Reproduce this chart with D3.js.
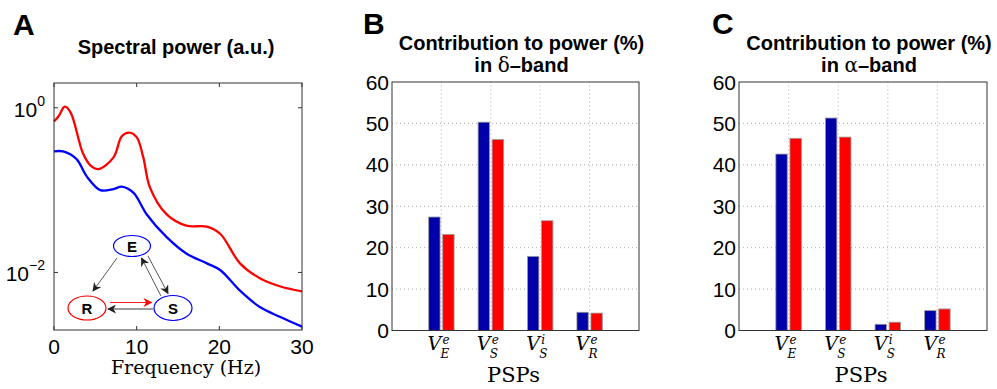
<!DOCTYPE html>
<html>
<head>
<meta charset="utf-8">
<script src="https://cdn.jsdelivr.net/npm/d3@7"></script>
<style>
	body { margin: 0; background: #fff; }
	svg { display: block; }
</style>
</head>
<body>
<div></div>
<script>
// panel A : spectra
const freqRed = [0, 0.6, 1.3, 2.0, 3.5, 4.4, 5.4, 7.2, 8.2, 9.1, 10.0, 10.8, 11.6, 13.6, 16, 18.5, 20.1, 22.5, 24.9, 27.3, 30];
const powerRed = [0.68, 0.80, 1.03, 0.88, 0.28, 0.20, 0.18, 0.25, 0.45, 0.50, 0.44, 0.25, 0.108, 0.051, 0.037, 0.036, 0.0295, 0.0129, 0.0085, 0.0068, 0.0059];
const freqBlue = [0, 1.1, 2.7, 4.0, 5.6, 7.2, 8.2, 9.6, 11.2, 13.6, 16, 18.5, 20.1, 22.5, 24.9, 27.3, 30];
const powerBlue = [0.295, 0.295, 0.24, 0.145, 0.100, 0.103, 0.110, 0.093, 0.051, 0.027, 0.017, 0.0129, 0.0107, 0.0060, 0.0038, 0.0029, 0.0022];
const freqTicks = [0, 10, 20, 30];
const powerTicks = [1, 0.01];
const powerTickExp = ["0", "\u22122"];

// panels B and C : contributions (%)
const pspSub = ["E", "S", "S", "R"];
const pspSup = ["e", "e", "i", "e"];
const deltaBlue = [27.4, 50.3, 17.9, 4.4];
const deltaRed = [23.2, 46.1, 26.5, 4.2];
const alphaBlue = [42.6, 51.3, 1.5, 4.8];
const alphaRed = [46.4, 46.7, 2.0, 5.2];
const percentTicks = [0, 10, 20, 30, 40, 50, 60];

const width = 997;
const height = 389;
const sans = "'Liberation Sans', Arial, Helvetica, sans-serif";
const serif = "'DejaVu Serif', 'Liberation Serif', serif";
const red = "#ff0000";
const blue = "#0000ff";
const barBlue = "#0000a8";

var svg = d3.select("div")
	.append("svg")
	.attr("width", width)
	.attr("height", height);

svg.append("rect").attr("width", width).attr("height", height).attr("fill", "#fff");

var defs = svg.append("defs");
[["arrBlack", "#222"], ["arrRed", red]].forEach(function (m) {
	defs.append("marker")
		.attr("id", m[0])
		.attr("viewBox", "0 0 10 10")
		.attr("refX", 9)
		.attr("refY", 5)
		.attr("markerWidth", 9)
		.attr("markerHeight", 9)
		.attr("markerUnits", "userSpaceOnUse")
		.attr("orient", "auto")
		.append("path")
		.attr("d", "M0,0 L10,5 L0,10 L3,5 z")
		.attr("fill", m[1]);
});

function panelLetter(x, y, t) {
	svg.append("text")
		.attr("x", x).attr("y", y)
		.style("font-family", sans)
		.style("font-weight", "bold")
		.style("font-size", "30px")
		.text(t);
}

// ---------------- panel A ----------------
var xA = d3.scaleLinear().domain([0, 30]).range([54, 302]);
var yA = d3.scaleLog().domain([0.002, 2]).range([330, 83]);

panelLetter(13, 35, "A");

svg.append("text")
	.attr("x", 176).attr("y", 54)
	.attr("text-anchor", "middle")
	.style("font-family", sans)
	.style("font-weight", "bold")
	.style("font-size", "20px")
	.text("Spectral power (a.u.)");

var gA = svg.append("g");

// ticks inside the box, on all four sides
freqTicks.forEach(function (t) {
	gA.append("line").attr("x1", xA(t)).attr("x2", xA(t)).attr("y1", 330).attr("y2", 326).attr("stroke", "#333");
	gA.append("line").attr("x1", xA(t)).attr("x2", xA(t)).attr("y1", 83).attr("y2", 87).attr("stroke", "#333");
	gA.append("text")
		.attr("x", xA(t)).attr("y", 354)
		.attr("text-anchor", "middle")
		.style("font-family", sans)
		.style("font-size", "21px")
		.text(t);
});

powerTicks.forEach(function (t, i) {
	gA.append("line").attr("x1", 54).attr("x2", 58).attr("y1", yA(t)).attr("y2", yA(t)).attr("stroke", "#333");
	gA.append("line").attr("x1", 302).attr("x2", 298).attr("y1", yA(t)).attr("y2", yA(t)).attr("stroke", "#333");
	var lab = gA.append("text")
		.attr("x", 45).attr("y", yA(t) + 9)
		.attr("text-anchor", "end")
		.style("font-family", sans)
		.style("font-size", "21px");
	lab.append("tspan").text("10");
	lab.append("tspan")
		.attr("dy", -11)
		.style("font-size", "14px")
		.text(powerTickExp[i]);
});

var line = d3.line()
	.x(function (d) { return xA(d[0]); })
	.y(function (d) { return yA(d[1]); })
	.curve(d3.curveCatmullRom.alpha(0.5));

gA.append("path")
	.attr("d", line(d3.zip(freqRed, powerRed)))
	.attr("fill", "none")
	.attr("stroke", red)
	.attr("stroke-width", 2.3);

gA.append("path")
	.attr("d", line(d3.zip(freqBlue, powerBlue)))
	.attr("fill", "none")
	.attr("stroke", blue)
	.attr("stroke-width", 2.3);

gA.append("rect")
	.attr("x", 54).attr("y", 83)
	.attr("width", 248).attr("height", 247)
	.attr("fill", "none")
	.attr("stroke", "#333")
	.attr("stroke-width", 1);

// network inset E, R, S
var net = svg.append("g").attr("transform", "translate(40,221)");
var nodes = [
	{ id: "E", x: 92, y: 25, rx: 18.5, ry: 10.5, c: blue },
	{ id: "R", x: 47, y: 87, rx: 19, ry: 12, c: red },
	{ id: "S", x: 133, y: 87, rx: 19, ry: 12.5, c: blue }
];
var links = [
	[77, 37, 53, 70, "arrBlack", "#444"],
	[108, 35, 128, 72.5, "arrBlack", "#444"],
	[121, 75, 101.5, 37, "arrBlack", "#444"],
	[70, 81.5, 111.5, 81.5, "arrRed", red],
	[113, 88, 68, 88, "arrBlack", "#222"]
];
links.forEach(function (l) {
	net.append("line")
		.attr("x1", l[0]).attr("y1", l[1])
		.attr("x2", l[2]).attr("y2", l[3])
		.attr("stroke", l[5])
		.attr("stroke-width", 0.9)
		.attr("marker-end", "url(#" + l[4] + ")");
});
nodes.forEach(function (n) {
	net.append("ellipse")
		.attr("cx", n.x).attr("cy", n.y)
		.attr("rx", n.rx).attr("ry", n.ry)
		.attr("fill", "none")
		.attr("stroke", n.c)
		.attr("stroke-width", 1.2);
	net.append("text")
		.attr("x", n.x).attr("y", n.y + 5.5)
		.attr("text-anchor", "middle")
		.style("font-family", sans)
		.style("font-weight", "bold")
		.style("font-size", "15px")
		.text(n.id);
});

svg.append("text")
	.attr("x", 186).attr("y", 374)
	.attr("text-anchor", "middle")
	.style("font-family", serif)
	.style("font-size", "19px")
	.text("Frequency (Hz)");

// ---------------- panels B and C ----------------
function barPanel(left, right, blueVals, redVals, letter, letterX, greek) {
	var x = d3.scaleLinear().domain([0, 5]).range([left, right]);
	var y = d3.scaleLinear().domain([0, 60]).range([330.5, 82]);
	var g = svg.append("g");
	var mid = (left + right) / 2;
	var bw = x(0.23) - x(0);
	var off = 0.142;

	panelLetter(letterX, 34, letter);

	var title = g.append("text")
		.attr("text-anchor", "middle")
		.style("font-family", sans)
		.style("font-weight", "bold")
		.style("font-size", "20px");
	title.append("tspan").attr("x", mid + 6).attr("y", 50).text("Contribution to power (%)");
	var t2 = title.append("tspan").attr("x", mid + 6).attr("y", 72);
	t2.append("tspan").text("in ");
	t2.append("tspan").style("font-family", serif).style("font-weight", "normal").text(greek);
	t2.append("tspan").text("\u2013band");

	// dotted grid
	percentTicks.slice(1, -1).forEach(function (t) {
		g.append("line")
			.attr("x1", left).attr("x2", right)
			.attr("y1", y(t)).attr("y2", y(t))
			.attr("stroke", "#999")
			.attr("stroke-width", 0.8)
			.attr("stroke-dasharray", "1,3");
	});
	pspSub.forEach(function (s, i) {
		g.append("line")
			.attr("x1", x(i + 1)).attr("x2", x(i + 1))
			.attr("y1", y(0)).attr("y2", y(60))
			.attr("stroke", "#999")
			.attr("stroke-width", 0.8)
			.attr("stroke-dasharray", "1,3");
	});

	g.selectAll(".bblue")
		.data(blueVals)
		.enter()
		.append("rect")
		.attr("x", function (d, i) { return x(i + 1 - off) - bw / 2; })
		.attr("y", function (d) { return y(d); })
		.attr("width", bw)
		.attr("height", function (d) { return y(0) - y(d); })
		.attr("fill", barBlue)
		.attr("stroke", "#999")
		.attr("stroke-width", 0.8);

	g.selectAll(".bred")
		.data(redVals)
		.enter()
		.append("rect")
		.attr("x", function (d, i) { return x(i + 1 + off) - bw / 2; })
		.attr("y", function (d) { return y(d); })
		.attr("width", bw)
		.attr("height", function (d) { return y(0) - y(d); })
		.attr("fill", red)
		.attr("stroke", "#999")
		.attr("stroke-width", 0.8);

	percentTicks.forEach(function (t) {
		g.append("text")
			.attr("x", left - 3).attr("y", y(t) + 7.5)
			.attr("text-anchor", "end")
			.style("font-family", sans)
			.style("font-size", "21px")
			.text(t);
	});

	pspSub.forEach(function (s, i) {
		var cx = x(i + 1);
		g.append("text")
			.attr("x", cx - 14).attr("y", 350)
			.style("font-family", serif)
			.style("font-style", "italic")
			.style("font-size", "19px")
			.text("V");
		g.append("text")
			.attr("x", cx + 1).attr("y", 344)
			.style("font-family", serif)
			.style("font-style", "italic")
			.style("font-size", "12px")
			.text(pspSup[i]);
		g.append("text")
			.attr("x", cx - 1).attr("y", 358)
			.style("font-family", serif)
			.style("font-style", "italic")
			.style("font-size", "12px")
			.text(s);
	});

	g.append("text")
		.attr("x", mid - 2).attr("y", 382)
		.attr("text-anchor", "middle")
		.style("font-family", serif)
		.style("font-size", "21px")
		.text("PSPs");

	g.append("rect")
		.attr("x", left).attr("y", y(60))
		.attr("width", right - left).attr("height", y(0) - y(60))
		.attr("fill", "none")
		.attr("stroke", "#333")
		.attr("stroke-width", 1);
}

barPanel(392, 639, deltaBlue, deltaRed, "B", 363, "\u03b4");
barPanel(739, 987, alphaBlue, alphaRed, "C", 712, "\u03b1");
</script>
</body>
</html>
